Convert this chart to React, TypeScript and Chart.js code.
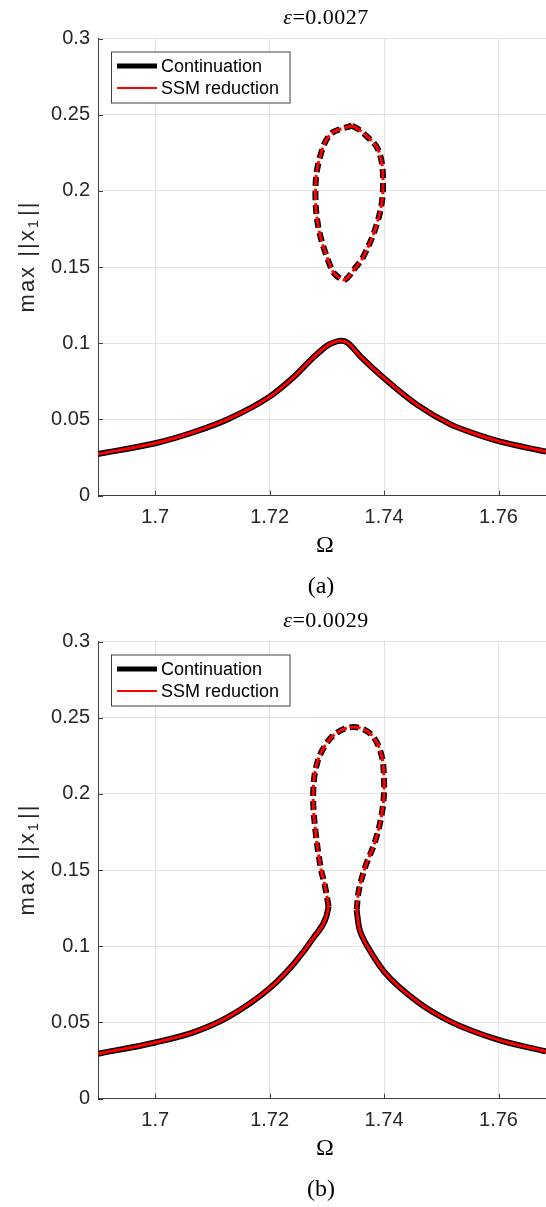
import React, { useEffect, useRef } from "react";
import { Chart, registerables } from "chart.js";

Chart.register(...registerables);

// ---------- shared axis data ----------
const xTicks = [1.7, 1.72, 1.74, 1.76];
const yTicks = [0, 0.05, 0.1, 0.15, 0.2, 0.25, 0.3];
const xRange = [1.69, 1.7683];
const yRange = [0, 0.3];
const seriesNames = ["Continuation", "SSM reduction"];

// ---------- panel (a): eps = 0.0027 ----------
const aTitle = "0.0027";
const aCaption = "(a)";
const aLowerOmega = [1.69, 1.7, 1.7068, 1.7127, 1.72, 1.7243, 1.7278, 1.7302, 1.7313, 1.7324, 1.7336, 1.7359, 1.74, 1.7458, 1.7516, 1.755, 1.76, 1.7683];
const aLowerAmp = [0.0274, 0.0344, 0.0418, 0.0502, 0.065, 0.0782, 0.0913, 0.0988, 0.1007, 0.1016, 0.1004, 0.0913, 0.0771, 0.0596, 0.0468, 0.0418, 0.0358, 0.0289];
const aIsolaOmega = [1.7344, 1.7362, 1.7391, 1.7398, 1.7388, 1.7364, 1.7347, 1.7331, 1.7315, 1.7306, 1.7286, 1.728, 1.7286, 1.7306, 1.7344];
const aIsolaAmp = [0.2429, 0.2385, 0.226, 0.2008, 0.179, 0.157, 0.1483, 0.1417, 0.145, 0.1505, 0.1746, 0.1987, 0.2194, 0.237, 0.2429];

// ---------- panel (b): eps = 0.0029 ----------
const bTitle = "0.0029";
const bCaption = "(b)";
const bLeftOmega = [1.69, 1.7, 1.7068, 1.7127, 1.72, 1.7243, 1.7278, 1.7299, 1.7303];
const bLeftAmp = [0.0295, 0.0369, 0.0437, 0.0535, 0.0725, 0.0889, 0.1063, 0.1194, 0.126];
const bLoopOmega = [1.7303, 1.7297, 1.7289, 1.728, 1.7276, 1.728, 1.7292, 1.7315, 1.7347, 1.7376, 1.7394, 1.74, 1.7397, 1.7385, 1.7367, 1.7356, 1.7352];
const bLoopAmp = [0.126, 0.139, 0.152, 0.176, 0.198, 0.2155, 0.2286, 0.2395, 0.2439, 0.2395, 0.2275, 0.209, 0.1893, 0.1696, 0.152, 0.1369, 0.1238];
const bRightOmega = [1.7352, 1.7356, 1.7362, 1.7371, 1.74, 1.7458, 1.7516, 1.76, 1.7683];
const bRightAmp = [0.1238, 0.1129, 0.1063, 0.0998, 0.0834, 0.0637, 0.0506, 0.0386, 0.031];

const AXIS = "#404040";
const TEXT = "#262626";
const GRID = "#e3e3e3";
const SANS = '"Liberation Sans", Arial, sans-serif';
const SERIF = '"Liberation Serif", "Times New Roman", serif';

type Curve = { xs: number[]; ys: number[]; dashed: boolean; loop: boolean };

function pts(xs: number[], ys: number[]) {
  return xs.map((x, i) => ({ x, y: ys[i] }));
}

function buildDatasets(curves: Curve[]) {
  const out: any[] = [];
  curves.forEach((c, i) => {
    const interp = c.loop
      ? { tension: 0.35, cubicInterpolationMode: "default" }
      : { tension: 0.4, cubicInterpolationMode: "monotone" };
    out.push({
      label: seriesNames[0] + i,
      data: pts(c.xs, c.ys),
      showLine: true,
      pointRadius: 0,
      borderColor: "#000000",
      borderWidth: 6,
      borderDash: c.dashed ? [9, 5] : [],
      ...interp,
      order: 2,
    });
    out.push({
      label: seriesNames[1] + i,
      data: pts(c.xs, c.ys),
      showLine: true,
      pointRadius: 0,
      borderColor: "#ff0000",
      borderWidth: 3,
      borderDash: c.dashed ? [11, 3] : [],
      ...interp,
      order: 1,
    });
  });
  return out;
}

function decorPlugin(title: string, caption: string) {
  return {
    id: "decor",
    afterDraw(chart: any) {
      const ctx: any = chart.ctx;
      const { left, top, bottom } = chart.chartArea;
      const xs = chart.scales.x;
      const ys = chart.scales.y;
      ctx.save();
      // inward tick marks
      ctx.strokeStyle = AXIS;
      ctx.lineWidth = 1;
      ys.ticks.forEach((t: any) => {
        const p = Math.round(ys.getPixelForValue(t.value)) + 0.5;
        ctx.beginPath();
        ctx.moveTo(left, p);
        ctx.lineTo(left + 5, p);
        ctx.stroke();
      });
      xs.ticks.forEach((t: any) => {
        const p = Math.round(xs.getPixelForValue(t.value)) + 0.5;
        ctx.beginPath();
        ctx.moveTo(p, bottom);
        ctx.lineTo(p, bottom - 5);
        ctx.stroke();
      });

      // title  ε=0.00xx
      ctx.fillStyle = "#000";
      ctx.textBaseline = "middle";
      ctx.textAlign = "left";
      ctx.letterSpacing = "0.5px";
      const fEps = "italic 22px " + SERIF;
      const fRest = "22px " + SERIF;
      ctx.font = fEps;
      const wEps = ctx.measureText("ε").width;
      ctx.font = fRest;
      const rest = "=" + title;
      const wRest = ctx.measureText(rest).width;
      const tx = 326 - (wEps + wRest) / 2;
      ctx.font = fEps;
      ctx.fillText("ε", tx, top - 20);
      ctx.font = fRest;
      ctx.fillText(rest, tx + wEps, top - 20);
      ctx.letterSpacing = "0px";

      // x label Ω
      ctx.textAlign = "center";
      ctx.font = "24px " + SERIF;
      ctx.fillText("Ω", 325, bottom + 50);
      // caption
      ctx.font = "24px " + SERIF;
      ctx.fillText(caption, 321, bottom + 91);

      // y label  max ||x1||
      ctx.save();
      ctx.translate(28, top + 218);
      ctx.rotate(-Math.PI / 2);
      ctx.fillStyle = TEXT;
      ctx.letterSpacing = "2px";
      const fMain = "22px " + SANS;
      const fSub = "15px " + SANS;
      ctx.font = fMain;
      const p1 = "max ||x";
      const p3 = "||";
      const w1 = ctx.measureText(p1).width;
      const w3 = ctx.measureText(p3).width;
      ctx.font = fSub;
      const w2 = ctx.measureText("1").width + 2;
      const total = w1 + w2 + w3;
      let cx = -total / 2;
      ctx.textAlign = "left";
      ctx.font = fMain;
      ctx.fillText(p1, cx, 0);
      cx += w1;
      ctx.font = fSub;
      ctx.fillText("1", cx, 6);
      cx += w2;
      ctx.font = fMain;
      ctx.fillText(p3, cx, 0);
      ctx.letterSpacing = "0px";
      ctx.restore();

      // legend
      const bx = 111.5, by = top + 13.5, bw = 178.5, bh = 51;
      ctx.fillStyle = "#ffffff";
      ctx.fillRect(bx, by, bw, bh);
      ctx.strokeStyle = AXIS;
      ctx.lineWidth = 1;
      ctx.strokeRect(bx, by, bw, bh);
      ctx.lineCap = "butt";
      ctx.strokeStyle = "#000";
      ctx.lineWidth = 5;
      ctx.beginPath();
      ctx.moveTo(117, top + 27.5);
      ctx.lineTo(157, top + 27.5);
      ctx.stroke();
      ctx.strokeStyle = "#ff0000";
      ctx.lineWidth = 2;
      ctx.beginPath();
      ctx.moveTo(117, top + 49.5);
      ctx.lineTo(157, top + 49.5);
      ctx.stroke();
      ctx.fillStyle = "#000";
      ctx.font = "18px " + SANS;
      ctx.textAlign = "left";
      ctx.textBaseline = "middle";
      ctx.fillText(seriesNames[0], 161, top + 28.5);
      ctx.fillText(seriesNames[1], 161, top + 50.5);
      ctx.restore();
    },
  };
}

function fmt(v: number) {
  return String(+v.toFixed(4));
}

function Panel({ title, caption, curves }: { title: string; caption: string; curves: Curve[] }) {
  const ref = useRef<HTMLCanvasElement | null>(null);
  useEffect(() => {
    if (!ref.current) return;
    const chart = new Chart(ref.current, {
      type: "scatter",
      data: { datasets: buildDatasets(curves) },
      options: {
        animation: false,
        responsive: false,
        devicePixelRatio: 1,
        layout: { padding: { top: 38.5, left: 0, right: 0, bottom: 0 } },
        plugins: { legend: { display: false }, tooltip: { enabled: false }, title: { display: false } },
        scales: {
          x: {
            type: "linear",
            min: xRange[0],
            max: xRange[1],
            afterBuildTicks: (s: any) => {
              s.ticks = xTicks.map((v) => ({ value: v }));
            },
            afterFit: (s: any) => {
              s.height = 603 - 495.7;
            },
            ticks: {
              callback: (v: any) => fmt(Number(v)),
              font: { family: SANS, size: 20 },
              color: TEXT,
              padding: 10,
              maxRotation: 0,
              autoSkip: false,
            },
            grid: { color: GRID, lineWidth: 1, drawTicks: false },
            border: { display: true, color: AXIS, width: 1 },
          },
          y: {
            type: "linear",
            min: yRange[0],
            max: yRange[1],
            afterBuildTicks: (s: any) => {
              s.ticks = yTicks.map((v) => ({ value: v }));
            },
            afterFit: (s: any) => {
              s.width = 98;
            },
            ticks: {
              callback: (v: any) => fmt(Number(v)),
              font: { family: SANS, size: 20 },
              color: TEXT,
              padding: 8,
              autoSkip: false,
            },
            grid: { color: GRID, lineWidth: 1, drawTicks: false },
            border: { display: true, color: AXIS, width: 1 },
          },
        },
      },
      plugins: [decorPlugin(title, caption)],
    } as any);
    return () => chart.destroy();
  }, []);
  return <canvas ref={ref} width={546} height={603} style={{ display: "block" }} />;
}

export default function App() {
  useEffect(() => {
    document.body.style.margin = "0";
    document.body.style.background = "#ffffff";
  }, []);
  return (
    <div style={{ width: 546, height: 1207, background: "#fff" }}>
      <Panel
        title={aTitle}
        caption={aCaption}
        curves={[
          { xs: aLowerOmega, ys: aLowerAmp, dashed: false, loop: false },
          { xs: aIsolaOmega, ys: aIsolaAmp, dashed: true, loop: true },
        ]}
      />
      <Panel
        title={bTitle}
        caption={bCaption}
        curves={[
          { xs: bLeftOmega, ys: bLeftAmp, dashed: false, loop: false },
          { xs: bLoopOmega, ys: bLoopAmp, dashed: true, loop: true },
          { xs: bRightOmega, ys: bRightAmp, dashed: false, loop: false },
        ]}
      />
    </div>
  );
}
